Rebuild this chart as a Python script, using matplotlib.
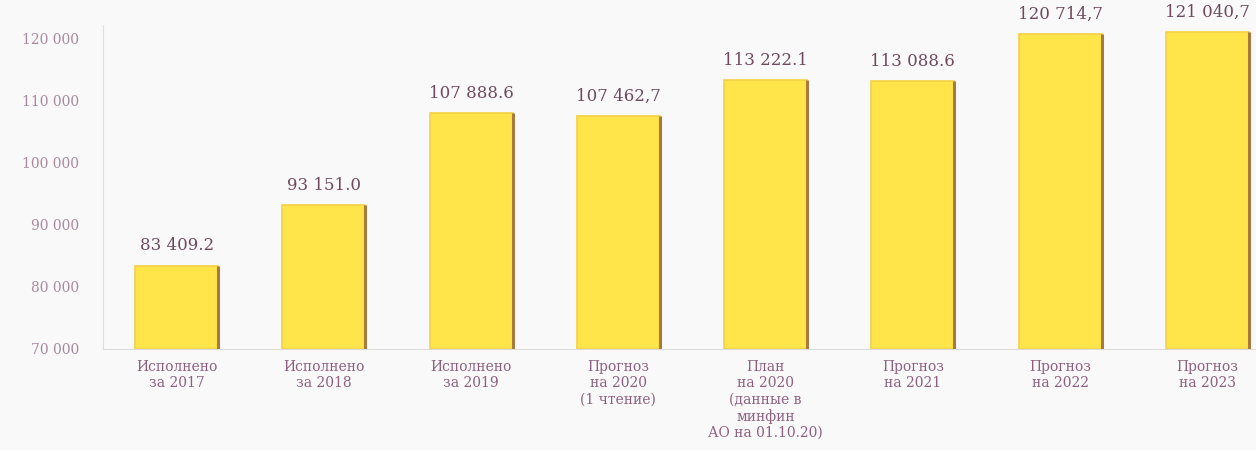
import matplotlib.pyplot as plt

categories = [
    "Исполнено\nза 2017",
    "Исполнено\nза 2018",
    "Исполнено\nза 2019",
    "Прогноз\nна 2020\n(1 чтение)",
    "План\nна 2020\n(данные в\nминфин\nАО на 01.10.20)",
    "Прогноз\nна 2021",
    "Прогноз\nна 2022",
    "Прогноз\nна 2023",
]
values = [83409.2, 93151.0, 107888.6, 107462.7, 113222.1, 113088.6, 120714.7, 121040.7]
value_labels = ["83 409.2", "93 151.0", "107 888.6", "107 462,7",
                "113 222.1", "113 088.6", "120 714,7", "121 040,7"]
yticks = [70000, 80000, 90000, 100000, 110000, 120000]
ytick_labels = ["70 000", "80 000", "90 000", "100 000", "110 000", "120 000"]

plt.rcParams["font.family"] = ["DejaVu Serif", "Liberation Serif"]

fig = plt.figure(figsize=(12.56, 4.5), dpi=100, facecolor="#f9f9f9")
ax = fig.add_axes([103 / 1256, 101 / 450, 1178 / 1256, 324 / 450])
ax.set_facecolor("#f9f9f9")

x = list(range(len(values)))
w = 0.565
base = 70000
heights = [v - base for v in values]
ax.bar(x, heights, width=w, bottom=base, color="#ffe54a",
       edgecolor="#f5cf45", linewidth=1.2, zorder=2)
# darker right-hand edge of each bar
ax.vlines([i + w / 2 for i in x], base, values, color="#a87a40", lw=2.2, zorder=3)

for i, v in enumerate(values):
    ax.annotate(value_labels[i], (i, v), xytext=(0, 8), textcoords="offset points",
                ha="center", va="bottom", fontsize=12, color="#6e4a60",
                clip_on=False)

ax.set_xlim(-0.5, 7.5)
ax.set_ylim(70000, 122100)
ax.set_yticks(yticks)
ax.set_yticklabels(ytick_labels, fontsize=10, color="#a88aa0")
ax.set_xticks(x)
ax.set_xticklabels(categories, fontsize=10, color="#8e6080", linespacing=1.2)
ax.tick_params(axis="y", length=0, pad=17)
ax.tick_params(axis="x", length=0, pad=8)

for s in ["top", "right"]:
    ax.spines[s].set_visible(False)
ax.spines["left"].set_color("#e2dde2")
ax.spines["bottom"].set_color("#dcdcdc")

fig.savefig("out.png", dpi=100, facecolor=fig.get_facecolor())
